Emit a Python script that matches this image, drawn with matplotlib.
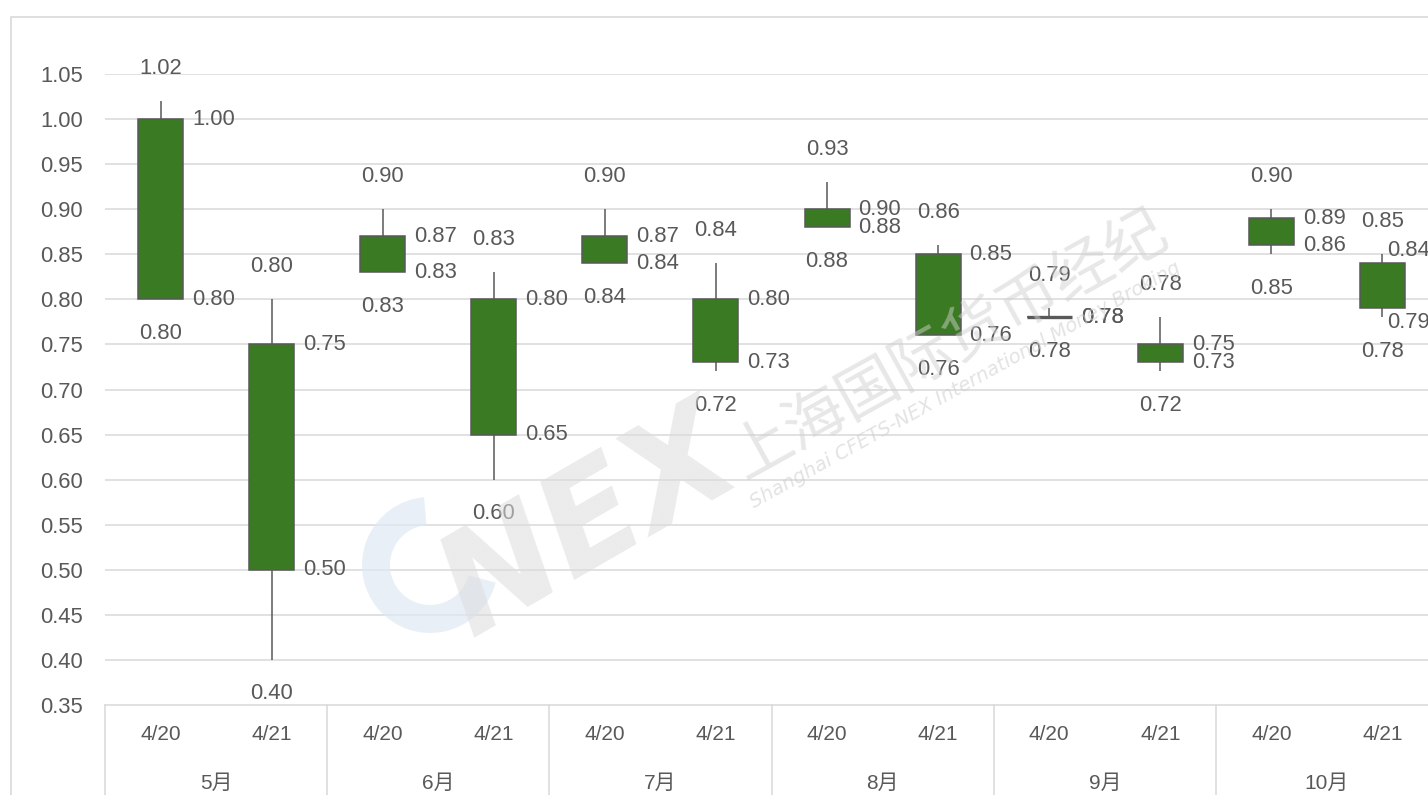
import matplotlib
matplotlib.use("Agg")
import matplotlib.pyplot as plt
import matplotlib.transforms as mtransforms
from matplotlib.patches import Rectangle, Wedge

plt.rcParams['font.family'] = ['Liberation Sans', 'Noto Sans CJK SC', 'DejaVu Sans']

# ---------------- data ----------------
months = ["5月", "6月", "7月", "8月", "9月", "10月"]
days = ["4/20", "4/21"]
open_vals = [1.00, 0.75, 0.87, 0.80, 0.87, 0.80, 0.90, 0.85, 0.78, 0.75, 0.89, 0.84]
close_vals = [0.80, 0.50, 0.83, 0.65, 0.84, 0.73, 0.88, 0.76, 0.78, 0.73, 0.86, 0.79]
high_vals = [1.02, 0.80, 0.90, 0.83, 0.90, 0.84, 0.93, 0.86, 0.79, 0.78, 0.90, 0.85]
low_vals = [0.80, 0.40, 0.83, 0.60, 0.84, 0.72, 0.88, 0.76, 0.78, 0.72, 0.85, 0.78]
y_ticks = [0.35, 0.40, 0.45, 0.50, 0.55, 0.60, 0.65, 0.70, 0.75, 0.80, 0.85, 0.90, 0.95, 1.00, 1.05]

# ---------------- style ----------------
W, H = 1428, 795
GREEN = "#3a7a22"
DARK = "#595959"
GRID = "#d9d9d9"
TXT = "#595959"
FS = 15.8

fig = plt.figure(figsize=(W / 100, H / 100), dpi=100)
fig.patch.set_facecolor("white")

# outer frame
fig.patches.append(Rectangle((11 / W, -0.2), 2.0, (H - 17) / H + 0.2, transform=fig.transFigure,
                             fill=False, edgecolor=GRID, linewidth=1.2, zorder=0))

ax_l, ax_r, ax_t, ax_b = 105, 1438, 74, 705
ax = fig.add_axes([ax_l / W, (H - ax_b) / H, (ax_r - ax_l) / W, (ax_b - ax_t) / H])
ax.set_facecolor("none")

n = len(open_vals)
xs = [i + 0.5 for i in range(n)]
ax.set_xlim(0, n)
ax.set_ylim(y_ticks[0], y_ticks[-1])

# grid
for yv in y_ticks[1:]:
    ax.axhline(yv, color=GRID, linewidth=1.1, zorder=1)
for s in ["top", "right", "left"]:
    ax.spines[s].set_visible(False)
ax.spines["bottom"].set_color(GRID)
ax.spines["bottom"].set_linewidth(1.1)

ax.set_yticks(y_ticks)
ax.set_yticklabels([f"{v:.2f}" for v in y_ticks])
ax.tick_params(axis="y", length=0, pad=16, labelsize=FS, labelcolor=TXT)
ax.set_xticks([])

# watermark
fig.text(590 / W, (H - 525) / H, "NEX", fontsize=100, fontweight="bold", fontstyle="italic",
         color="#dcdcdc", alpha=0.55, rotation=30, ha="center", va="center",
         family=["DejaVu Sans"], zorder=2)
fig.text(950 / W, (H - 345) / H, "上海国际货币经纪", fontsize=44, color="#d0d0d0", alpha=0.5,
         rotation=29, ha="center", va="center", family=["Noto Sans CJK SC"], zorder=2)
fig.text(965 / W, (H - 385) / H, "Shanghai CFETS-NEX International Money Broking", fontsize=14,
         color="#d0d0d0", alpha=0.6, rotation=29, ha="center", va="center",
         fontstyle="italic", family=["DejaVu Sans"], zorder=2)
fig.patches.append(Wedge((4.3, 2.3), 0.68, 95, 345, width=0.28, transform=fig.dpi_scale_trans,
                         facecolor="#dfe9f4", edgecolor="none", alpha=0.7, zorder=2))

# candles
bw = 0.405
tops = [max(o, c) for o, c in zip(open_vals, close_vals)]
bots = [min(o, c) for o, c in zip(open_vals, close_vals)]
ax.vlines(xs, low_vals, high_vals, color=DARK, linewidth=1.1, zorder=3)
heights = [t - b for t, b in zip(tops, bots)]
ax.bar(xs, heights, bottom=bots, width=bw, color=GREEN, edgecolor=DARK, linewidth=1.1, zorder=4)
for x, h, b in zip(xs, heights, bots):
    if h == 0:
        ax.hlines(b, x - bw / 2, x + bw / 2, color=DARK, linewidth=2.4, zorder=4)

# data labels
lab = dict(textcoords="offset pixels", color=TXT, fontsize=FS, zorder=6, annotation_clip=False)
# the last candle's side labels are pushed inward (chart edge), as in the reference
right_offsets = {n - 1: ((-18, 13), (-18, -14))}
for i, x in enumerate(xs):
    ax.annotate(f"{high_vals[i]:.2f}", (x, high_vals[i]), xytext=(0, 33), ha="center", va="center", **lab)
    ax.annotate(f"{low_vals[i]:.2f}", (x, low_vals[i]), xytext=(0, -34), ha="center", va="center", **lab)
    (ox, oy), (cx, cy) = right_offsets.get(i, ((9, 0), (9, 0)))
    ax.annotate(f"{open_vals[i]:.2f}", (x + bw / 2, open_vals[i]), xytext=(ox, oy),
                ha="left", va="center", **lab)
    ax.annotate(f"{close_vals[i]:.2f}", (x + bw / 2, close_vals[i]), xytext=(cx, cy),
                ha="left", va="center", **lab)

# multi-level category axis
trans = mtransforms.blended_transform_factory(ax.transData, ax.transAxes)
axh = ax_b - ax_t
for g in range(len(months) + 1):
    ax.plot([2 * g, 2 * g], [0, -0.3], color=GRID, linewidth=1.1, transform=trans, clip_on=False, zorder=1)
for i, x in enumerate(xs):
    ax.text(x, -30 / axh, days[i % 2], transform=trans, ha="center", va="center",
            fontsize=15, color=TXT)
for g, m in enumerate(months):
    ax.text(2 * g + 1, -78 / axh, m, transform=trans, ha="center", va="center",
            fontsize=15, color=TXT)

fig.savefig("out.png", dpi=100, facecolor="white")
